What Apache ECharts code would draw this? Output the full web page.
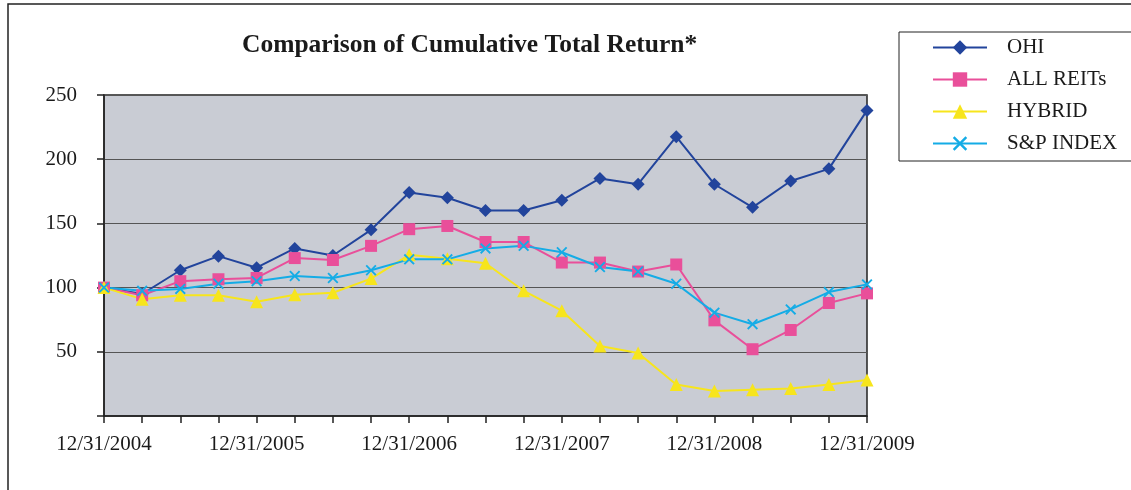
<!DOCTYPE html>
<html><head><meta charset="utf-8">
<script src="https://cdn.jsdelivr.net/npm/echarts@6/dist/echarts.min.js"></script>
<style>html,body{margin:0;padding:0;background:#fff}#c{width:1131px;height:490px}</style>
</head><body><div id="c"></div>
<script>
const categories = ['12/31/2004','','','','12/31/2005','','','','12/31/2006','','','','12/31/2007','','','','12/31/2008','','','','12/31/2009'];
const ohi = [100,95,113.5,124.5,115.5,130.5,125,145,174,170,160,160,168,185,180.5,217.5,180.5,162.5,183,192.5,238];
const allReits = [100,94,105,106.5,107.5,123,121.5,132.5,145.5,148,135.5,135.5,119.5,119.5,112.5,118,74.5,52,67,88,95.5];
const hybrid = [100,91,94,94,89,94.5,96,107,125.5,122.5,119,97.5,82,54.5,49,24.5,19.5,20.5,21.5,24.5,28];
const spIndex = [100,97.5,99,103,105,109,107.5,113.5,122,122,130.5,132.5,127.5,116,112.5,103,80.5,71.5,83,96.5,102.5];
const yTicks = [0,50,100,150,200,250];

const FONT = '"Liberation Serif", "Times New Roman", serif';
const crossPath = 'path://M0,1.2L1.2,0L5,3.8L8.8,0L10,1.2L6.2,5L10,8.8L8.8,10L5,6.2L1.2,10L0,8.8L3.8,5Z';

const chart = echarts.init(document.getElementById('c'), null, {renderer:'canvas'});
function mk(name, data, color, symbol, size){
  return {name, type:'line', data, symbol, symbolSize:size, showSymbol:true,
    lineStyle:{color, width:2}, itemStyle:{color}, emphasis:{disabled:true}, z: 3};
}
chart.setOption({
  animation:false,
  textStyle:{fontFamily:FONT},
  graphic:[{type:'rect', shape:{x:8, y:4, width:1140, height:520}, style:{fill:'none', stroke:'#222', lineWidth:1.5}, silent:true}],
  title:{text:'Comparison of Cumulative Total Return*', left:237, top:27,
    textStyle:{fontFamily:FONT, fontSize:25.5, fontWeight:'bold', color:'#1a1a1a'}},
  legend:{orient:'vertical', left:899, top:32, padding:[5,16,7,33], itemGap:11,
    itemWidth:54, itemHeight:18, borderColor:'#222', borderWidth:1, backgroundColor:'#fff',
    textStyle:{fontFamily:FONT, fontSize:21, color:'#1a1a1a', lineHeight:21, padding:[0,0,0,15]},
    data:['OHI','ALL REITs','HYBRID','S&P INDEX']},
  grid:{left:104, right:264, top:95, bottom:74, show:true, backgroundColor:'#c9ccd4', borderColor:'#222', borderWidth:1.5},
  xAxis:{type:'category', data:categories, boundaryGap:false,
    axisLine:{lineStyle:{color:'#222', width:1.5}},
    axisTick:{show:true, interval:0, length:7, lineStyle:{color:'#222', width:1.5}},
    axisLabel:{interval:0, margin:18, fontFamily:FONT, fontSize:21, color:'#1a1a1a'},
    splitLine:{show:false}},
  yAxis:{type:'value', min:0, max:250, interval:50,
    axisLine:{show:true, lineStyle:{color:'#222', width:1.5}},
    axisTick:{show:true, length:7, lineStyle:{color:'#222', width:1.5}},
    axisLabel:{margin:27, fontFamily:FONT, fontSize:21, color:'#1a1a1a', formatter:v=> v===0?'':String(v)},
    splitLine:{show:true, lineStyle:{color:'#555', width:1.2}}},
  series:[
    mk('OHI', ohi, '#22449c', 'diamond', 13),
    mk('ALL REITs', allReits, '#e94f9a', 'rect', 12),
    mk('HYBRID', hybrid, '#f7e51c', 'triangle', 13),
    mk('S&P INDEX', spIndex, '#14ace6', crossPath, 11)
  ]
});
</script></body></html>
